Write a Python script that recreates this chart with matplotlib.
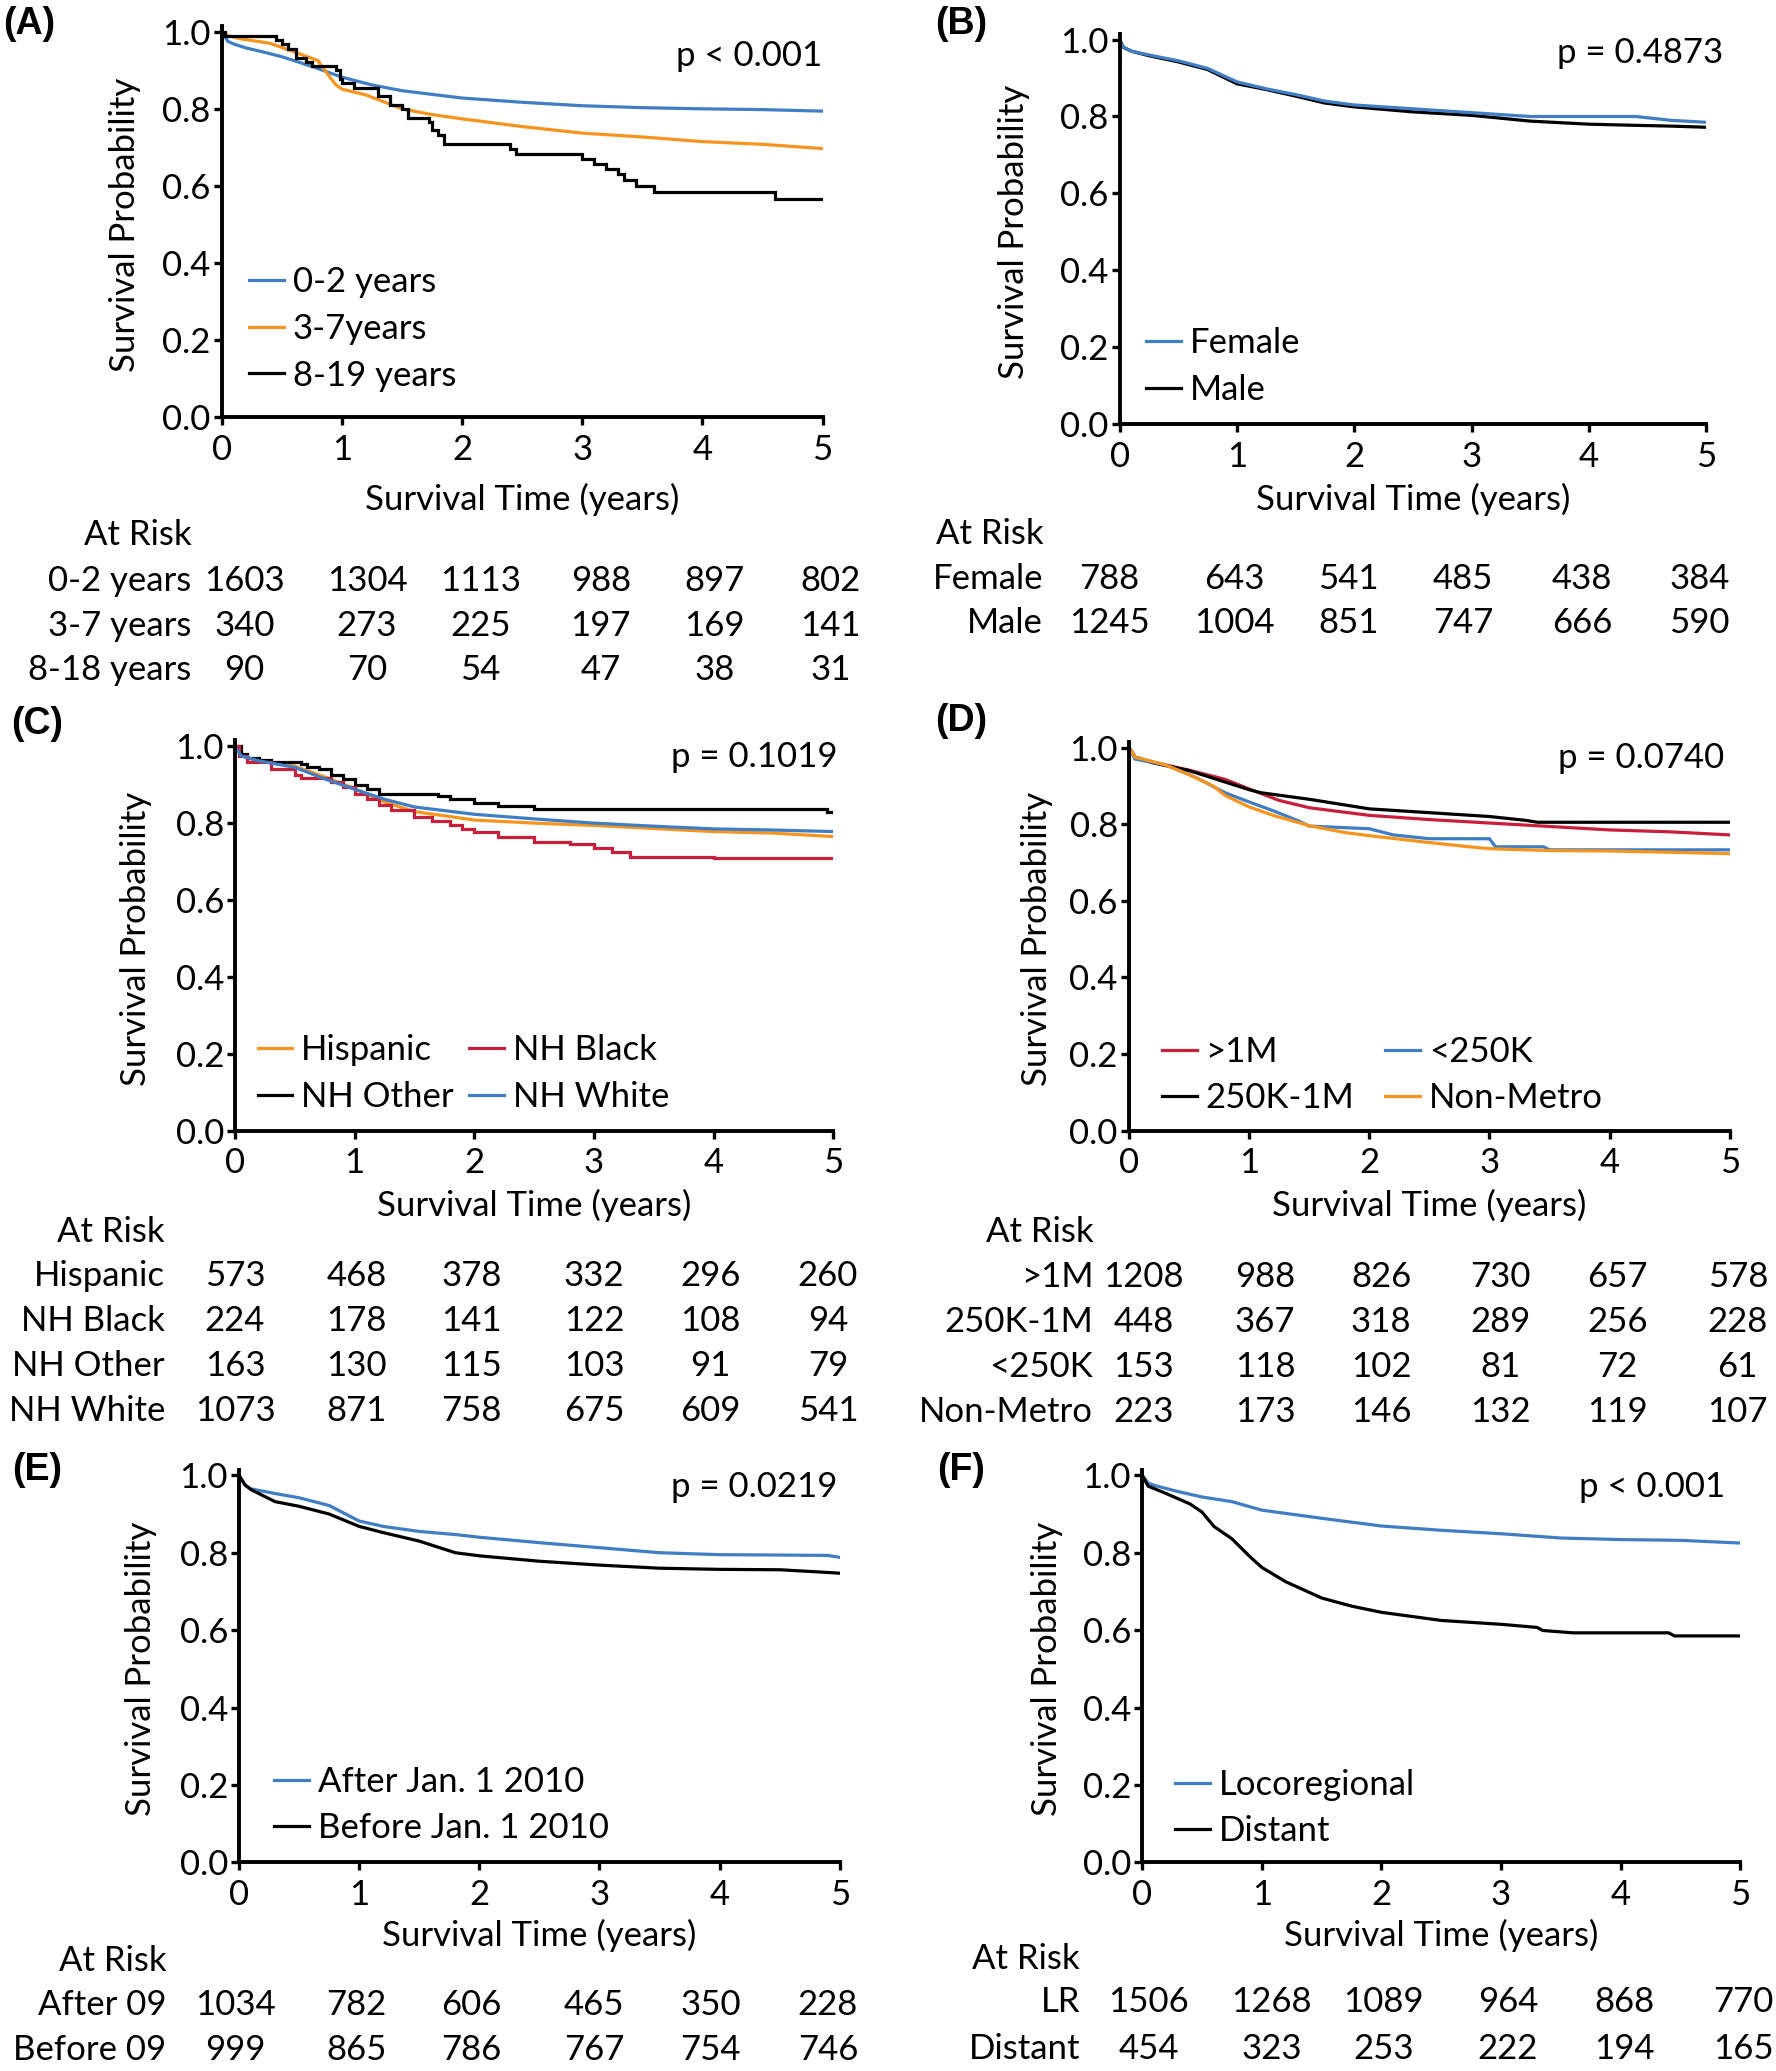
import matplotlib
matplotlib.use('Agg')
import matplotlib.pyplot as plt

BLUE = '#3f7ec4'
ORANGE = '#f7941d'
RED = '#c8203a'
BLACK = '#000000'

FONT = 'Lato'
FS = 25

# ---- data ----
# (A) age at diagnosis
a_t_02 = [0, 0.05, 0.1, 0.2, 0.35, 0.5, 0.75, 1.0, 1.25, 1.5, 2.0, 2.5, 3.0, 3.5, 4.0, 4.5, 5.0]
a_s_02 = [1.0, 0.975, 0.968, 0.958, 0.947, 0.935, 0.91, 0.882, 0.862, 0.847, 0.828, 0.817, 0.808, 0.803, 0.80, 0.798, 0.794]
a_t_37 = [0, 0.05, 0.15, 0.4, 0.6, 0.8, 0.88, 0.95, 1.0, 1.2, 1.5, 1.75, 2.0, 2.5, 3.0, 3.5, 4.0, 4.5, 5.0]
a_s_37 = [1.0, 0.99, 0.982, 0.97, 0.948, 0.925, 0.89, 0.862, 0.851, 0.836, 0.80, 0.785, 0.774, 0.754, 0.737, 0.727, 0.715, 0.708, 0.697]
a_t_819 = [0, 0.03, 0.45, 0.5, 0.55, 0.62, 0.7, 0.75, 0.95, 0.98, 1.0, 1.1, 1.3, 1.4, 1.5, 1.55, 1.72,
           1.75, 1.8, 1.85, 2.4, 2.45, 3.0, 3.1, 3.2, 3.3, 3.35, 3.45, 3.6, 4.6, 5.0]
a_s_819 = [1.0, 0.989, 0.978, 0.967, 0.955, 0.933, 0.922, 0.911, 0.90, 0.878, 0.866, 0.855, 0.833, 0.81, 0.80,
           0.777, 0.766, 0.744, 0.733, 0.71, 0.697, 0.683, 0.67, 0.656, 0.643, 0.63, 0.615, 0.601, 0.584, 0.565, 0.565]
a_rows = ['0-2 years', '3-7 years', '8-18 years']
a_risk = [[1603, 1304, 1113, 988, 897, 802], [340, 273, 225, 197, 169, 141], [90, 70, 54, 47, 38, 31]]

# (B) sex
b_t = [0, 0.03, 0.1, 0.25, 0.5, 0.75, 1.0, 1.25, 1.5, 1.75, 2.0, 2.5, 3.0, 3.5, 4.0, 4.4, 4.7, 5.0]
b_s_female = [1.0, 0.98, 0.97, 0.96, 0.945, 0.925, 0.89, 0.872, 0.857, 0.84, 0.83, 0.82, 0.81, 0.80, 0.80, 0.80, 0.79, 0.785]
b_s_male = [1.0, 0.98, 0.97, 0.958, 0.942, 0.922, 0.885, 0.87, 0.853, 0.835, 0.825, 0.812, 0.803, 0.788, 0.78, 0.777, 0.775, 0.772]
b_rows = ['Female', 'Male']
b_risk = [[788, 643, 541, 485, 438, 384], [1245, 1004, 851, 747, 666, 590]]

# (C) race / ethnicity
c_t = [0, 0.05, 0.2, 0.5, 0.75, 1.0, 1.25, 1.5, 2.0, 2.5, 3.0, 3.5, 4.0, 4.5, 5.0]
c_s_hisp = [1.0, 0.975, 0.962, 0.948, 0.92, 0.89, 0.855, 0.83, 0.808, 0.80, 0.794, 0.786, 0.778, 0.774, 0.765]
c_s_white = [1.0, 0.975, 0.962, 0.945, 0.915, 0.888, 0.862, 0.842, 0.823, 0.811, 0.80, 0.792, 0.785, 0.782, 0.778]
c_t_black = [0, 0.03, 0.1, 0.3, 0.5, 0.55, 0.8, 0.9, 1.0, 1.1, 1.2, 1.3, 1.5, 1.65, 1.8, 1.9, 2.0, 2.2,
             2.5, 2.8, 3.0, 3.15, 3.3, 4.0, 5.0]
c_s_black = [1.0, 0.975, 0.96, 0.94, 0.925, 0.917, 0.906, 0.895, 0.876, 0.862, 0.847, 0.835, 0.817, 0.805,
             0.794, 0.785, 0.776, 0.765, 0.752, 0.745, 0.735, 0.725, 0.711, 0.709, 0.709]
c_t_other = [0, 0.05, 0.1, 0.2, 0.3, 0.55, 0.6, 0.7, 0.8, 0.9, 1.0, 1.1, 1.2, 1.7, 1.8, 2.0, 2.2, 2.5, 4.95, 5.0]
c_s_other = [1.0, 0.98, 0.97, 0.965, 0.96, 0.953, 0.947, 0.94, 0.926, 0.914, 0.90, 0.888, 0.876, 0.87, 0.862,
             0.853, 0.845, 0.838, 0.829, 0.829]
c_rows = ['Hispanic', 'NH Black', 'NH Other', 'NH White']
c_risk = [[573, 468, 378, 332, 296, 260], [224, 178, 141, 122, 108, 94],
          [163, 130, 115, 103, 91, 79], [1073, 871, 758, 675, 609, 541]]

# (D) metro size
d_t_1m = [0, 0.05, 0.2, 0.5, 0.8, 1.0, 1.25, 1.5, 2.0, 2.5, 3.0, 3.5, 4.0, 4.5, 5.0]
d_s_1m = [1.0, 0.975, 0.962, 0.941, 0.917, 0.892, 0.862, 0.843, 0.823, 0.812, 0.803, 0.794, 0.785, 0.78, 0.772]
d_t_mid = [0, 0.05, 0.2, 0.5, 0.8, 1.0, 1.1, 1.5, 1.8, 2.0, 2.5, 3.0, 3.3, 3.4, 5.0]
d_s_mid = [1.0, 0.975, 0.96, 0.94, 0.91, 0.89, 0.882, 0.865, 0.85, 0.84, 0.83, 0.82, 0.81, 0.805, 0.805]
d_t_small = [0, 0.05, 0.3, 0.5, 0.6, 0.8, 1.0, 1.2, 1.4, 1.5, 2.0, 2.2, 2.5, 3.0, 3.05, 3.45, 3.5, 5.0]
d_s_small = [1.0, 0.97, 0.955, 0.93, 0.915, 0.882, 0.858, 0.835, 0.81, 0.795, 0.788, 0.772, 0.762, 0.762,
             0.741, 0.741, 0.733, 0.733]
d_t_nonmetro = [0, 0.05, 0.3, 0.5, 0.7, 0.8, 1.0, 1.2, 1.5, 1.8, 2.0, 2.5, 2.8, 3.0, 3.5, 4.0, 4.6, 5.0]
d_s_nonmetro = [1.0, 0.975, 0.955, 0.929, 0.90, 0.875, 0.845, 0.823, 0.796, 0.778, 0.77, 0.752, 0.742, 0.736,
                0.731, 0.73, 0.726, 0.723]
d_rows = ['>1M', '250K-1M', '<250K', 'Non-Metro']
d_risk = [[1208, 988, 826, 730, 657, 578], [448, 367, 318, 289, 256, 228],
          [153, 118, 102, 81, 72, 61], [223, 173, 146, 132, 119, 107]]

# (E) diagnosis era
e_t = [0, 0.05, 0.1, 0.3, 0.5, 0.75, 1.0, 1.2, 1.5, 1.8, 2.0, 2.5, 3.0, 3.5, 4.0, 4.5, 4.9, 5.0]
e_s_after = [1.0, 0.975, 0.965, 0.953, 0.942, 0.922, 0.882, 0.868, 0.855, 0.847, 0.84, 0.826, 0.813, 0.80,
             0.795, 0.794, 0.793, 0.788]
e_s_before = [1.0, 0.975, 0.963, 0.932, 0.92, 0.90, 0.868, 0.852, 0.83, 0.80, 0.792, 0.778, 0.768, 0.76,
              0.757, 0.756, 0.749, 0.747]
e_rows = ['After 09', 'Before 09']
e_risk = [[1034, 782, 606, 465, 350, 228], [999, 865, 786, 767, 754, 746]]

# (F) stage
f_t_lr = [0, 0.05, 0.1, 0.3, 0.5, 0.75, 1.0, 1.5, 2.0, 2.5, 3.0, 3.5, 4.0, 4.5, 5.0]
f_s_lr = [1.0, 0.98, 0.974, 0.958, 0.944, 0.932, 0.91, 0.889, 0.869, 0.858, 0.849, 0.838, 0.834, 0.832, 0.825]
f_t_dist = [0, 0.05, 0.2, 0.4, 0.5, 0.6, 0.75, 0.9, 1.0, 1.2, 1.5, 1.75, 2.0, 2.5, 3.0, 3.3, 3.35, 3.6,
            4.4, 4.45, 5.0]
f_s_dist = [1.0, 0.972, 0.953, 0.926, 0.905, 0.868, 0.836, 0.79, 0.762, 0.725, 0.683, 0.662, 0.646, 0.625,
            0.615, 0.607, 0.599, 0.593, 0.593, 0.585, 0.585]
f_rows = ['LR', 'Distant']
f_risk = [[1506, 1268, 1089, 964, 868, 770], [454, 323, 253, 222, 194, 165]]

PANELS = [
    dict(tag='(A)', p='p < 0.001', rows=a_rows, risk=a_risk, ncol=1,
         curves=[(a_t_02, a_s_02, BLUE, '0-2 years', 'default'),
                 (a_t_37, a_s_37, ORANGE, '3-7years', 'default'),
                 (a_t_819, a_s_819, BLACK, '8-19 years', 'steps-post')]),
    dict(tag='(B)', p='p = 0.4873', rows=b_rows, risk=b_risk, ncol=1,
         curves=[(b_t, b_s_male, BLACK, 'Male', 'default'),
                 (b_t, b_s_female, BLUE, 'Female', 'default')],
         legend_order=[1, 0]),
    dict(tag='(C)', p='p = 0.1019', rows=c_rows, risk=c_risk, ncol=2,
         curves=[(c_t, c_s_hisp, ORANGE, 'Hispanic', 'default'),
                 (c_t_other, c_s_other, BLACK, 'NH Other', 'steps-post'),
                 (c_t_black, c_s_black, RED, 'NH Black', 'steps-post'),
                 (c_t, c_s_white, BLUE, 'NH White', 'default')]),
    dict(tag='(D)', p='p = 0.0740', rows=d_rows, risk=d_risk, ncol=2,
         curves=[(d_t_1m, d_s_1m, RED, '>1M', 'default'),
                 (d_t_mid, d_s_mid, BLACK, '250K-1M', 'default'),
                 (d_t_small, d_s_small, BLUE, '<250K', 'default'),
                 (d_t_nonmetro, d_s_nonmetro, ORANGE, 'Non-Metro', 'default')]),
    dict(tag='(E)', p='p = 0.0219', rows=e_rows, risk=e_risk, ncol=1,
         curves=[(e_t, e_s_after, BLUE, 'After Jan. 1 2010', 'default'),
                 (e_t, e_s_before, BLACK, 'Before Jan. 1 2010', 'default')]),
    dict(tag='(F)', p='p < 0.001', rows=f_rows, risk=f_risk, ncol=1,
         curves=[(f_t_lr, f_s_lr, BLUE, 'Locoregional', 'default'),
                 (f_t_dist, f_s_dist, BLACK, 'Distant', 'default')]),
]

# ---- layout, measured in reference pixels (1345 x 1568 view) ----
# pxy is in data units (years, probability); leg is the legend's left/centre in data units
W, H = 1345.0, 1568.0
LAYOUT = [
    dict(box=(168, 623, 316, 24), tagxy=(22, 18), pxy=(5.0, 0.938), leg=(0.23, 0.229), colsp=0.45,
         ylab=95, xlab=378, at=(145, 405), lab_r=145, row_y=[440, 474, 507],
         cols=[185, 278, 364, 455, 541, 629]),
    dict(box=(848, 1292, 321, 30), tagxy=(728, 18), pxy=(5.15, 0.966), leg=(0.225, 0.149), colsp=0.45,
         ylab=768, xlab=378, at=(790, 404), lab_r=790, row_y=[438, 472],
         cols=[840, 935, 1021, 1108, 1198, 1287]),
    dict(box=(178, 631, 856, 565), tagxy=(28, 548), pxy=(5.035, 0.972), leg=(0.19, 0.148), colsp=0.45,
         ylab=103, xlab=913, at=(125, 933), lab_r=125, row_y=[966, 1000, 1034, 1068],
         cols=[178, 270, 357, 450, 538, 627]),
    dict(box=(855, 1310, 856, 566), tagxy=(728, 546), pxy=(4.955, 0.972), leg=(0.275, 0.145), colsp=0.9,
         ylab=785, xlab=913, at=(828, 933), lab_r=828, row_y=[967, 1001, 1035, 1069],
         cols=[866, 958, 1046, 1136, 1225, 1316]),
    dict(box=(181, 636, 1410, 1117), tagxy=(28, 1113), pxy=(4.98, 0.969), leg=(0.295, 0.148), colsp=0.45,
         ylab=107, xlab=1465, at=(126, 1485), lab_r=126, row_y=[1518, 1552],
         cols=[178, 270, 357, 450, 538, 627]),
    dict(box=(865, 1318, 1410, 1117), tagxy=(728, 1113), pxy=(4.87, 0.969), leg=(0.275, 0.14), colsp=0.45,
         ylab=793, xlab=1465, at=(818, 1483), lab_r=818, row_y=[1516, 1551],
         cols=[870, 963, 1048, 1142, 1230, 1320]),
]


def fx(x):
    return x / W


def fy(y):
    return 1 - y / H


def draw_panel(fig, panel, lay):
    x0, x5, y0, y1 = lay['box']
    top = 1.015
    height = (y0 - y1) / H * top
    ax = fig.add_axes([fx(x0), fy(y0), (x5 - x0) / W, height])

    lines = []
    for t, s, color, label, style in panel['curves']:
        line, = ax.plot(t, s, color=color, lw=2.3, drawstyle=style, label=label, solid_joinstyle='miter')
        lines.append(line)

    ax.set_xlim(0, 5)
    ax.set_ylim(0, top)
    ax.set_xticks(range(6))
    ax.set_yticks([0, 0.2, 0.4, 0.6, 0.8, 1.0])
    ax.set_yticklabels(['{:.1f}'.format(v) for v in [0, 0.2, 0.4, 0.6, 0.8, 1.0]])
    for side in ['top', 'right']:
        ax.spines[side].set_visible(False)
    for side in ['left', 'bottom']:
        ax.spines[side].set_linewidth(2.8)
    ax.tick_params(axis='both', width=2.4, length=6, labelsize=FS, direction='out', pad=2)
    ax.tick_params(axis='x', pad=6)

    # legend
    order = panel.get('legend_order', list(range(len(lines))))
    handles = [lines[i] for i in order]
    ax.legend(handles=handles, loc='center left', bbox_to_anchor=lay['leg'], bbox_transform=ax.transData,
              ncol=panel['ncol'], frameon=False, fontsize=FS, handlelength=1.0, handletextpad=0.25,
              labelspacing=0.42, columnspacing=lay['colsp'], borderpad=0, borderaxespad=0)

    ax.text(lay['pxy'][0], lay['pxy'][1], panel['p'], ha='right', va='center', fontsize=FS, clip_on=False)

    # axis labels
    fig.text(fx(lay['ylab']), fy((y0 + y1) / 2), 'Survival Probability', rotation=90, ha='center',
             va='center', fontsize=FS)
    fig.text(fx((x0 + x5) / 2), fy(lay['xlab']), 'Survival Time (years)', ha='center', va='center',
             fontsize=FS)

    # panel tag
    fig.text(fx(lay['tagxy'][0]), fy(lay['tagxy'][1]), panel['tag'], ha='center', va='center',
             fontsize=27, fontweight='bold', family='Liberation Sans')

    # at-risk table
    fig.text(fx(lay['at'][0]), fy(lay['at'][1]), 'At Risk', ha='right', va='center', fontsize=FS)
    for name, counts, ry in zip(panel['rows'], panel['risk'], lay['row_y']):
        fig.text(fx(lay['lab_r']), fy(ry), name, ha='right', va='center', fontsize=FS)
        for n, cx in zip(counts, lay['cols']):
            fig.text(fx(cx), fy(ry), str(n), ha='center', va='center', fontsize=FS)
    return ax


def main():
    plt.rcParams['font.family'] = [FONT, 'DejaVu Sans']
    fig = plt.figure(figsize=(17.76, 20.71), dpi=100)
    for panel, lay in zip(PANELS, LAYOUT):
        draw_panel(fig, panel, lay)
    fig.savefig('out.png', dpi=100, facecolor='white')


if __name__ == '__main__':
    main()
